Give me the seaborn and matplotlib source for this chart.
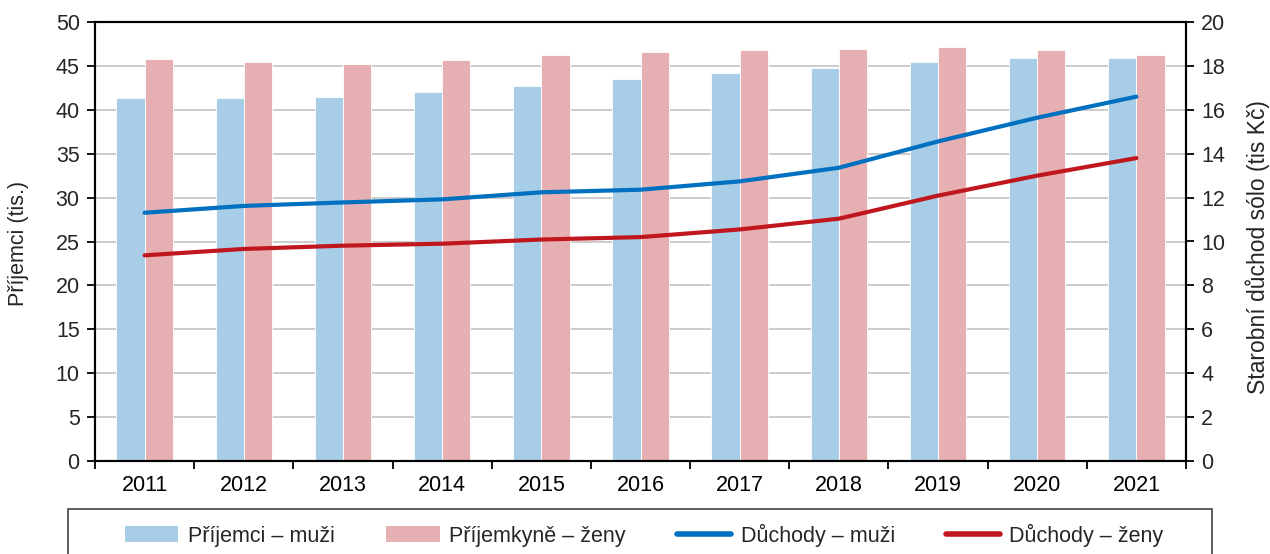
import numpy as np
import pandas as pd
import matplotlib
matplotlib.use("Agg")
import matplotlib.pyplot as plt
import seaborn as sns
from matplotlib.patches import Rectangle, Patch
from matplotlib.lines import Line2D

years = ["2011", "2012", "2013", "2014", "2015", "2016", "2017", "2018", "2019", "2020", "2021"]
recipients_men = [41.4, 41.4, 41.45, 42.05, 42.75, 43.5, 44.15, 44.75, 45.45, 45.9, 45.85]
recipients_women = [45.8, 45.4, 45.2, 45.65, 46.25, 46.55, 46.8, 46.9, 47.1, 46.8, 46.25]
pension_men = [11.31, 11.62, 11.78, 11.92, 12.24, 12.36, 12.74, 13.36, 14.56, 15.64, 16.6]
pension_women = [9.37, 9.66, 9.81, 9.9, 10.09, 10.2, 10.55, 11.04, 12.09, 13.0, 13.8]

lab_rm = "Příjemci – muži"
lab_rw = "Příjemkyně – ženy"
lab_pm = "Důchody – muži"
lab_pw = "Důchody – ženy"

c_bar_m = "#a7cde7"
c_bar_w = "#e6afb2"
c_line_m = "#0070c0"
c_line_w = "#c0171f"

df_bars = pd.DataFrame({
    "year": years * 2,
    "value": recipients_men + recipients_women,
    "series": [lab_rm] * len(years) + [lab_rw] * len(years),
})

sns.set_theme(style="white")
plt.rcParams['font.family'] = ['Liberation Sans', 'DejaVu Sans']

FS = 15.5
W, H = 1270, 554
fig = plt.figure(figsize=(W / 100, H / 100), dpi=100)
ax = fig.add_axes([95 / W, 93 / H, (1186 - 95) / W, (461 - 22) / H])

sns.barplot(data=df_bars, x="year", y="value", hue="series",
            palette=[c_bar_m, c_bar_w], width=0.57, saturation=1,
            ax=ax, legend=False, edgecolor="white", linewidth=0.6)

ax.set_xlim(-0.5, len(years) - 0.5)
ax.set_ylim(0, 50)
ax.set_yticks(np.arange(0, 51, 5))
ax.set_xlabel("")
ax.set_ylabel("")
ax.set_xticks(np.arange(-0.5, len(years), 1), minor=True)
ax.tick_params(axis="x", which="major", length=0, labelsize=FS, pad=10, colors="black")
ax.tick_params(axis="x", which="minor", length=6, width=1.3, direction="out", color="black", bottom=True)
ax.tick_params(axis="y", which="major", length=6, width=1.3, direction="out", labelsize=FS,
               color="black", left=True, pad=5)
ax.grid(axis="y", color="#cccccc", linewidth=1.4)
ax.set_axisbelow(True)
for s in ax.spines.values():
    s.set_color("black")
    s.set_linewidth(1.5)

ax2 = ax.twinx()
x_idx = np.arange(len(years))
sns.lineplot(x=x_idx, y=pension_men, color=c_line_m, linewidth=3.0, ax=ax2,
             solid_capstyle="round", solid_joinstyle="round")
sns.lineplot(x=x_idx, y=pension_women, color=c_line_w, linewidth=3.0, ax=ax2,
             solid_capstyle="round", solid_joinstyle="round")
ax2.set_ylim(0, 20)
ax2.set_yticks(np.arange(0, 21, 2))
ax2.set_xlim(-0.5, len(years) - 0.5)
ax2.tick_params(axis="y", which="major", length=6, width=1.3, direction="out", labelsize=FS,
                color="black", right=True, pad=5)
ax2.grid(False)
for s in ax2.spines.values():
    s.set_color("black")
    s.set_linewidth(1.5)

fig.text(19 / W, 1 - 243 / H, "Příjemci (tis.)", rotation=90, ha="center", va="center", fontsize=FS)
fig.text(1258 / W, 1 - 247 / H, "Starobní důchod sólo (tis Kč)", rotation=90, ha="center", va="center",
         fontsize=16.5)

handles = [
    Patch(facecolor=c_bar_m, edgecolor="none"),
    Patch(facecolor=c_bar_w, edgecolor="none"),
    Line2D([0], [0], color=c_line_m, linewidth=4, solid_capstyle="round"),
    Line2D([0], [0], color=c_line_w, linewidth=4, solid_capstyle="round"),
]
labels = [lab_rm, lab_rw, lab_pm, lab_pw]
fig.legend(handles, labels, loc="center", bbox_to_anchor=(644 / W, 1 - 535 / H), ncol=4,
           frameon=False, fontsize=FS, handlelength=2.5, handletextpad=0.45,
           columnspacing=2.37, borderaxespad=0)

fig.patches.append(Rectangle((68 / W, -10 / H), (1212 - 68) / W, (554 - 509 + 10) / H,
                             transform=fig.transFigure, fill=False, edgecolor="#404040",
                             linewidth=1.2))

fig.savefig("out.png", dpi=100)
